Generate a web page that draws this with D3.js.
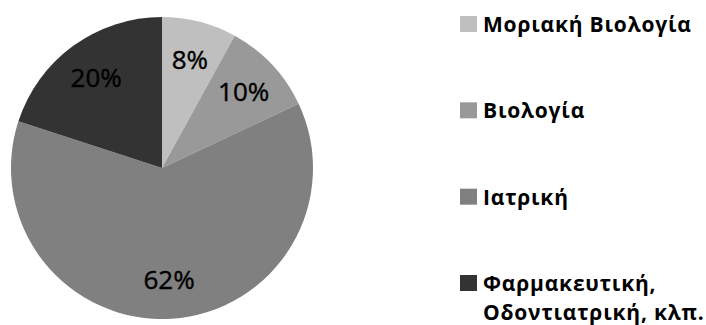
<!DOCTYPE html>
<html><head><meta charset="utf-8">
<script src="https://cdn.jsdelivr.net/npm/d3@7"></script>
<style>html,body{margin:0;padding:0;background:#fff;}svg{display:block;}</style>
</head><body>
<svg id="c" width="706" height="325"></svg>
<script>
const categories = ["Μοριακή Βιολογία", "Βιολογία", "Ιατρική", "Φαρμακευτική, Οδοντιατρική, κλπ."];
const legendLines = [["Μοριακή Βιολογία"], ["Βιολογία"], ["Ιατρική"], ["Φαρμακευτική,", "Οδοντιατρική, κλπ."]];
const values = [8, 10, 62, 20];
const colors = ["#bfbfbf", "#999999", "#808080", "#333333"];

const svg = d3.select("#c");
const cx = 162, cy = 168, R = 151;
const g = svg.append("g").attr("transform", `translate(${cx},${cy})`);
const pie = d3.pie().sort(null).value(d => d)(values);
const arc = d3.arc().innerRadius(0).outerRadius(R);
const labelArc = d3.arc().innerRadius(112).outerRadius(112);
const color = d3.scaleOrdinal().domain(categories).range(colors);

g.selectAll("path").data(pie).join("path")
  .attr("d", arc).attr("fill", (d, i) => color(categories[i]));

g.selectAll("text").data(pie).join("text")
  .attr("transform", d => `translate(${labelArc.centroid(d)})`)
  .attr("text-anchor", "middle").attr("dy", "0.36em")
  .attr("font-family", "Open Sans").attr("font-size", 26).attr("fill", "#000")
  .attr("stroke", "#000").attr("stroke-width", 0.4)
  .text(d => d.data + "%");

const ly = d3.scalePoint().domain(categories).range([24, 283]);
const lg = svg.append("g");
categories.forEach((c, i) => {
  const y = ly(c);
  lg.append("rect").attr("x", 460).attr("y", y - 8).attr("width", 17).attr("height", 16).attr("fill", color(c));
  const t = lg.append("text").attr("x", 483).attr("y", y + 8)
    .attr("font-family", "Open Sans").attr("font-weight", "bold").attr("font-size", 21)
    .attr("letter-spacing", 0.8).attr("fill", "#000");
  legendLines[i].forEach((line, j) => {
    t.append("tspan").attr("x", 483).attr("dy", j === 0 ? 0 : 29).text(line);
  });
});
</script>
</body></html>
